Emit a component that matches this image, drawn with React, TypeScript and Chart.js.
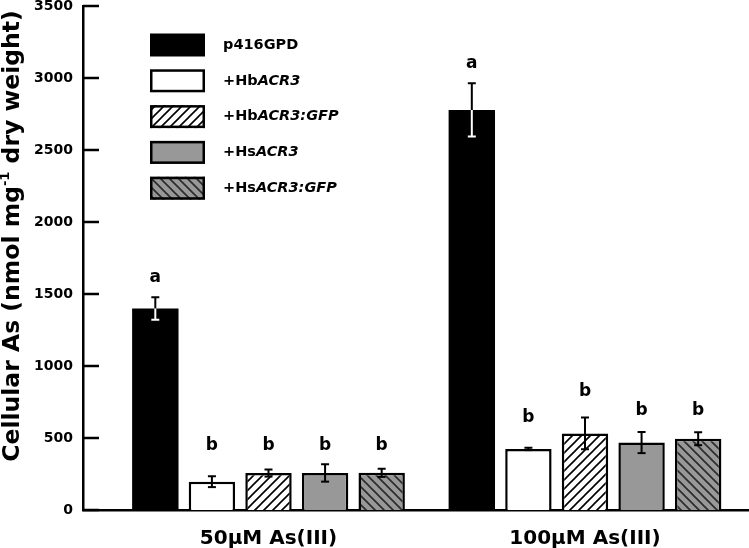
import React, { useEffect, useRef } from 'react';
import { Chart, registerables } from 'chart.js';

Chart.register(...registerables);

// ---- data ----
const groupLabels = ['50µM As(III)', '100µM As(III)'];
const seriesLabels = ['p416GPD', '+HbACR3', '+HbACR3:GFP', '+HsACR3', '+HsACR3:GFP'];
const seriesPlain = ['p416GPD', '+Hb', '+Hb', '+Hs', '+Hs'];
const seriesItalic = ['', 'ACR3', 'ACR3:GFP', 'ACR3', 'ACR3:GFP'];

const p416GPD = [1400, 2778];
const hbACR3 = [197, 424];
const hbACR3GFP = [257, 532];
const hsACR3 = [257, 468];
const hsACR3GFP = [258, 495];

const p416GPDErr = [78, 185];
const hbACR3Err = [38, 8];
const hbACR3GFPErr = [25, 110];
const hsACR3Err = [60, 73];
const hsACR3GFPErr = [28, 45];

const p416GPDLetters = ['a', 'a'];
const hbACR3Letters = ['b', 'b'];
const hbACR3GFPLetters = ['b', 'b'];
const hsACR3Letters = ['b', 'b'];
const hsACR3GFPLetters = ['b', 'b'];

const p416GPDLetterAt = [1611, 3097];
const hbACR3LetterAt = [444, 639];
const hbACR3GFPLetterAt = [444, 819];
const hsACR3LetterAt = [444, 688];
const hsACR3GFPLetterAt = [444, 688];

const yTicks = [0, 500, 1000, 1500, 2000, 2500, 3000, 3500];
const yTitleMain = 'Cellular As (nmol mg';
const yTitleSup = '-1';
const yTitleEnd = ' dry weight)';

const seriesValues = [p416GPD, hbACR3, hbACR3GFP, hsACR3, hsACR3GFP];
const seriesErrors = [p416GPDErr, hbACR3Err, hbACR3GFPErr, hsACR3Err, hsACR3GFPErr];
const seriesLetters = [p416GPDLetters, hbACR3Letters, hbACR3GFPLetters, hsACR3Letters, hsACR3GFPLetters];
const seriesLetterAt = [p416GPDLetterAt, hbACR3LetterAt, hbACR3GFPLetterAt, hsACR3LetterAt, hsACR3GFPLetterAt];

const FONT = '"DejaVu Sans", "Liberation Sans", Arial, sans-serif';
const GRAY = '#989898';

function makeHatch(ctx: CanvasRenderingContext2D, bg: string, fg: string, dir: '/' | '\\') {
  const s = 9;
  const c = document.createElement('canvas');
  c.width = s;
  c.height = s;
  const g = c.getContext('2d')!;
  g.fillStyle = bg;
  g.fillRect(0, 0, s, s);
  g.strokeStyle = fg;
  g.lineWidth = 1.6;
  g.beginPath();
  if (dir === '/') {
    g.moveTo(-1, s + 1); g.lineTo(s + 1, -1);
    g.moveTo(-s / 2 - 1, s / 2 + 1); g.lineTo(s / 2 + 1, -s / 2 - 1);
    g.moveTo(s / 2 - 1, s * 1.5 + 1); g.lineTo(s * 1.5 + 1, s / 2 - 1);
  } else {
    g.moveTo(-1, -1); g.lineTo(s + 1, s + 1);
    g.moveTo(-s / 2 - 1, s / 2 - 1); g.lineTo(s / 2 + 1, s * 1.5 + 1);
    g.moveTo(s / 2 - 1, -s / 2 - 1); g.lineTo(s * 1.5 + 1, s / 2 + 1);
  }
  g.stroke();
  return ctx.createPattern(c, 'repeat') as CanvasPattern;
}

export default function App() {
  const ref = useRef<HTMLCanvasElement | null>(null);

  useEffect(() => {
    const canvas = ref.current!;
    const ctx = canvas.getContext('2d')!;
    const fills: (string | CanvasPattern)[] = [
      '#000000',
      '#ffffff',
      makeHatch(ctx, '#ffffff', '#000000', '/'),
      GRAY,
      makeHatch(ctx, GRAY, '#2a2a2a', '\\'),
    ];

    const decor = {
      id: 'decor',
      afterDatasetsDraw(chart: any) {
        const c: CanvasRenderingContext2D = chart.ctx;
        const ys = chart.scales.y;
        const area = chart.chartArea;
        c.save();

        // inward y ticks
        c.strokeStyle = '#000';
        c.lineWidth = 2.5;
        yTicks.forEach((v) => {
          const y = ys.getPixelForValue(v);
          c.beginPath();
          c.moveTo(area.left, y);
          c.lineTo(area.left + 16, y);
          c.stroke();
        });

        // error bars + letters
        chart.data.datasets.forEach((_ds: any, i: number) => {
          const meta = chart.getDatasetMeta(i);
          meta.data.forEach((bar: any, j: number) => {
            const v = seriesValues[i][j];
            const e = seriesErrors[i][j];
            const x = bar.x;
            const yt = ys.getPixelForValue(v + e);
            const yb = ys.getPixelForValue(v - e);
            const yv = ys.getPixelForValue(v);
            const cap = 4;
            c.lineWidth = 2;
            const seg = (y1: number, y2: number, col: string) => {
              c.strokeStyle = col;
              c.beginPath();
              c.moveTo(x, y1);
              c.lineTo(x, y2);
              c.moveTo(x - cap, y1);
              c.lineTo(x + cap, y1);
              c.stroke();
            };
            if (i === 0) {
              seg(yt, yv, '#000');
              seg(yb, yv, '#fff');
            } else {
              seg(yt, yb, '#000');
              c.beginPath();
              c.moveTo(x - cap, yb);
              c.lineTo(x + cap, yb);
              c.stroke();
            }
            c.fillStyle = '#000';
            c.font = `bold 17px ${FONT}`;
            c.textAlign = 'center';
            c.textBaseline = 'middle';
            c.fillText(seriesLetters[i][j], x, ys.getPixelForValue(seriesLetterAt[i][j]));
          });
        });

        // legend
        const lx = 150, bw = 55, bh = 23;
        seriesLabels.forEach((_l, i) => {
          const cy = 45 + i * 35.8;
          c.fillStyle = fills[i] as any;
          c.fillRect(lx, cy - bh / 2, bw, bh);
          if (i > 0) {
            c.strokeStyle = '#000';
            c.lineWidth = 2.5;
            c.strokeRect(lx + 1.25, cy - bh / 2 + 1.25, bw - 2.5, bh - 2.5);
          }
          c.fillStyle = '#000';
          c.textAlign = 'left';
          c.textBaseline = 'middle';
          c.font = `bold 14.5px ${FONT}`;
          c.fillText(seriesPlain[i], 223, cy);
          const w = c.measureText(seriesPlain[i]).width;
          if (seriesItalic[i]) {
            c.font = `italic bold 14.5px ${FONT}`;
            c.fillText(seriesItalic[i], 223 + w, cy);
          }
        });

        // y title with superscript
        c.translate(19, 236);
        c.rotate(-Math.PI / 2);
        c.fillStyle = '#000';
        c.textBaseline = 'alphabetic';
        c.textAlign = 'left';
        const mainFont = `bold 23.5px ${FONT}`;
        const supFont = `bold 13px ${FONT}`;
        c.font = mainFont;
        const w1 = c.measureText(yTitleMain).width;
        const w3 = c.measureText(yTitleEnd).width;
        c.font = supFont;
        const w2 = c.measureText(yTitleSup).width;
        let x0 = -(w1 + w2 + w3) / 2;
        c.font = mainFont;
        c.fillText(yTitleMain, x0, 0);
        x0 += w1;
        c.font = supFont;
        c.fillText(yTitleSup, x0, -10);
        x0 += w2;
        c.font = mainFont;
        c.fillText(yTitleEnd, x0, 0);
        c.restore();
      },
    };

    const chart = new Chart(canvas, {
      type: 'bar',
      data: {
        datasets: seriesLabels.map((label, i) => ({
          label,
          data: seriesValues[i].map((v, j) => ({ x: j + 1, y: v })),
          backgroundColor: fills[i] as any,
          borderColor: '#000000',
          borderWidth: i === 0 ? 0 : 2.5,
          categoryPercentage: 0.894,
          barPercentage: 0.82,
        })),
      },
      options: {
        responsive: false,
        animation: false,
        layout: { padding: { top: 6, left: 0, right: 0, bottom: 0 }, autoPadding: false },
        plugins: { legend: { display: false }, tooltip: { enabled: false } },
        scales: {
          x: {
            type: 'linear',
            min: 0.4139,
            max: 2.5182,
            offset: false,
            grid: { display: false, drawTicks: false },
            border: { display: true, color: '#000', width: 2.5 },
            afterBuildTicks: (s: any) => {
              s.ticks = groupLabels.map((_g, i) => ({ value: i + 1 }));
            },
            afterFit: (s: any) => {
              s.height = 38;
              s.paddingLeft = 0;
              s.paddingRight = 0;
            },
            ticks: {
              autoSkip: false,
              maxRotation: 0,
              padding: 17,
              color: '#000',
              font: { family: FONT, size: 20, weight: 'bold' },
              callback: (v: any) => groupLabels[Number(v) - 1] ?? '',
            },
          },
          y: {
            min: 0,
            max: 3500,
            grid: { display: false, drawTicks: false },
            border: { display: true, color: '#000', width: 2.5 },
            afterBuildTicks: (s: any) => {
              s.ticks = yTicks.map((v) => ({ value: v }));
            },
            afterFit: (s: any) => {
              s.width = 83;
              s.paddingTop = 0;
              s.paddingBottom = 0;
            },
            ticks: {
              padding: 10,
              color: '#000',
              font: { family: FONT, size: 14, weight: 'bold' },
              callback: (v: any) => String(v),
            },
          },
        },
      } as any,
      plugins: [decor],
    });
    return () => chart.destroy();
  }, []);

  return (
    <div style={{ position: 'absolute', left: 0, top: 0, width: 749, height: 548, background: '#fff' }}>
      <canvas ref={ref} width={749} height={548} style={{ display: 'block' }} />
    </div>
  );
}
